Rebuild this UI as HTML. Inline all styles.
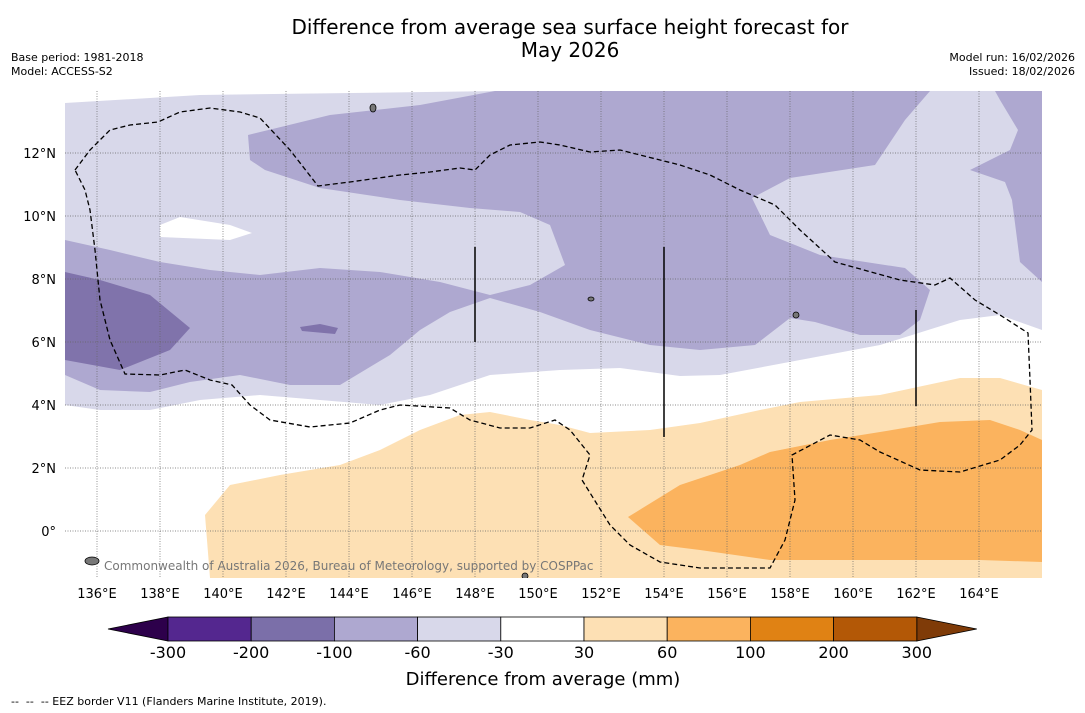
<!DOCTYPE html>
<html><head><meta charset="utf-8"><style>
body{margin:0;background:#fff;font-family:"DejaVu Sans","Liberation Sans",sans-serif;}
#wrap{position:relative;width:1085px;height:713px;overflow:hidden;background:#fff}
.t{position:absolute;white-space:nowrap;color:#000}
</style></head><body>
<div id="wrap">
<div class="t" style="left:0;width:1140px;top:16px;text-align:center;font-size:20px;line-height:23px">Difference from average sea surface height forecast for<br>May 2026</div>
<div class="t" style="left:11px;top:51px;font-size:11px;line-height:14px">Base period: 1981-2018<br>Model: ACCESS-S2</div>
<div class="t" style="right:10px;top:51px;font-size:11px;line-height:14px;text-align:right">Model run: 16/02/2026<br>Issued: 18/02/2026</div>
<svg id="svg" width="1085" height="713" style="position:absolute;left:0;top:0"></svg>
<div class="t" style="left:11px;top:695px;font-size:11px">-- &nbsp;-- &nbsp;-- EEZ border V11 (Flanders Marine Institute, 2019).</div>
</div>
<script>
const lonTicks=[136,138,140,142,144,146,148,150,152,154,156,158,160,162,164];
const latTicks=[12,10,8,6,4,2,0];
const cbBounds=[-300,-200,-100,-60,-30,30,60,100,200,300];
const cbColors=['#54278f','#7b6fa9','#aea8d0','#d8d8ea','#ffffff','#fde0b4','#fbb35e','#e08214','#b35806'];
const NS='http://www.w3.org/2000/svg';
const svg=document.getElementById('svg');
const X=lon=>97+(lon-136)*31.5, Y=lat=>531-lat*31.5;
function el(tag,attrs,parent){const e=document.createElementNS(NS,tag);for(const k in attrs)e.setAttribute(k,attrs[k]);(parent||svg).appendChild(e);return e;}
const clip=el('clipPath',{id:'mc'});el('rect',{x:65,y:91,width:977,height:487},clip);
const g=el('g',{'clip-path':'url(#mc)'});


function poly(pts,fill,name){const p=el('polygon',{points:pts,fill:fill},g);return p;}
el('rect',{x:65,y:91,width:977,height:487,fill:'#fff'},g);
poly('65,103 200,95 500,91 1042,91 1042,330 1000,315 960,320 880,345 800,360 720,375 680,376 620,368 560,370 490,375 430,395 380,405 320,400 260,395 200,400 150,410 100,410 65,405','#d8d8ea','light-lavender-region');
poly('160,225 180,217 230,225 252,233 230,240 160,237','#ffffff','white-patch');
poly('248,135 330,115 420,105 495,91 930,91 905,120 875,165 790,178 752,198 770,235 820,255 905,268 930,290 920,320 900,335 860,335 815,322 790,318 755,345 700,350 650,345 590,330 540,312 490,298 450,312 420,330 390,355 340,385 290,385 240,375 190,382 150,392 100,390 65,375 65,240 110,250 160,262 210,270 260,275 320,268 380,272 440,282 490,295 530,285 565,265 550,225 520,212 470,208 400,200 320,188 265,170 250,160','#aea8d0','medium-lavender-region');
poly('995,91 1042,91 1042,282 1020,262 1012,200 1005,182 970,170 1010,150 1018,130 1000,100','#aea8d0','medium-lavender-east');
poly('65,272 100,280 150,295 190,328 170,350 120,370 65,360','#8073ab','dark-lavender-region');
poly('300,327 320,324 338,328 335,334 302,331','#8073ab','dark-lavender-patch');
poly('205,515 230,485 280,475 340,465 380,450 420,430 460,415 490,412 530,420 560,425 590,433 650,430 700,423 760,410 800,402 880,395 960,378 1000,378 1042,390 1042,578 210,578','#fde0b4','light-orange-region');
poly('628,517 680,485 740,465 770,452 830,440 880,432 940,422 990,420 1020,430 1042,440 1042,562 980,560 770,560 700,550 660,545','#fbb35e','orange-region');
lonTicks.forEach(l=>{el('line',{x1:X(l),x2:X(l),y1:91,y2:578,stroke:'#666','stroke-width':0.7,'stroke-dasharray':'1,1.5'},g);});
latTicks.forEach(l=>{el('line',{x1:65,x2:1042,y1:Y(l),y2:Y(l),stroke:'#666','stroke-width':0.7,'stroke-dasharray':'1,1.5'},g);});
const eez=el('polyline',{points:'75,170 90,150 110,130 130,125 158,122 180,112 210,108 240,112 260,118 290,150 318,186 350,182 400,175 430,172 460,168 475,170 490,155 510,145 540,142 560,145 590,152 620,150 640,155 680,165 710,175 740,190 775,205 800,230 835,262 900,280 935,285 950,278 975,300 1000,315 1028,333 1030,380 1032,430 1020,445 1000,460 960,472 920,470 880,452 860,440 830,435 792,455 795,500 785,540 770,568 700,568 660,562 630,545 610,525 582,480 590,455 570,430 555,420 530,428 500,428 470,420 450,408 400,405 380,410 350,423 310,427 270,420 250,405 232,385 210,380 185,370 160,375 125,374 110,340 100,300 95,250 90,210 85,190 75,170',fill:'none',stroke:'#000','stroke-width':1.3,'stroke-dasharray':'5,3'},g);


[[475,247,342],[664,247,437],[916,310,406]].forEach(v=>el('line',{x1:v[0],x2:v[0],y1:v[1],y2:v[2],stroke:'#000','stroke-width':1.5},g));
[[373,108,3,4],[796,315,3,3],[591,299,3,2],[92,561,7,4],[525,576,3,3]].forEach(c=>el('ellipse',{cx:c[0],cy:c[1],rx:c[2],ry:c[3],fill:'#777',stroke:'#000','stroke-width':0.8},g));
const cr=el('text',{x:104,y:570,'font-size':12,fill:'#777','font-family':'DejaVu Sans, sans-serif'},g);cr.textContent='Commonwealth of Australia 2026, Bureau of Meteorology, supported by COSPPac';


lonTicks.forEach(l=>{const t=el('text',{x:X(l),y:598,'text-anchor':'middle','font-size':13,'font-family':'DejaVu Sans, sans-serif'});t.textContent=l+'°E';

});
latTicks.forEach(l=>{const t=el('text',{x:56,y:Y(l)+5,'text-anchor':'end','font-size':13,'font-family':'DejaVu Sans, sans-serif'});t.textContent=l===0?'0°':l+'°N';

});
const cx0=168,cw=83.2,cy=617,ch=24;
el('polygon',{points:`108,629 ${cx0},${cy} ${cx0},${cy+ch}`,fill:'#2d004b',stroke:'#000','stroke-width':0.8});
const endX=cx0+cw*cbColors.length;
el('polygon',{points:`${endX},${cy} ${endX+60},629 ${endX},${cy+ch}`,fill:'#7f3b08',stroke:'#000','stroke-width':0.8});
cbColors.forEach((c,i)=>{const r=el('rect',{x:cx0+i*cw,y:cy,width:cw,height:ch,fill:c,stroke:'#000','stroke-width':0.8});

});
cbBounds.forEach((b,i)=>{const t=el('text',{x:cx0+i*cw,y:658,'text-anchor':'middle','font-size':16,'font-family':'DejaVu Sans, sans-serif'});t.textContent=b;

});
const at=el('text',{x:543,y:685,'text-anchor':'middle','font-size':18,'font-family':'DejaVu Sans, sans-serif'});at.textContent='Difference from average (mm)';


</script>
</body></html>
